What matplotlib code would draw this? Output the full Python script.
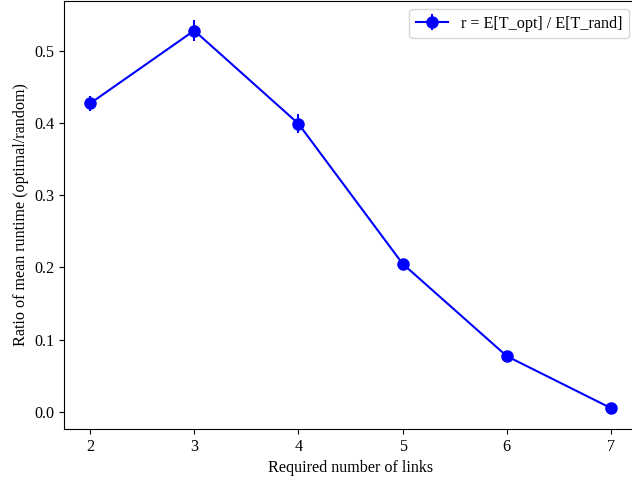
import matplotlib
matplotlib.use('Agg')
import matplotlib.pyplot as plt

plt.rcParams['font.family'] = ['Liberation Serif', 'DejaVu Serif']

# data
links = [2, 3, 4, 5, 6, 7]
ratio = [0.427, 0.528, 0.399, 0.205, 0.077, 0.005]
ratio_err = [0.011, 0.014, 0.013, 0.003, 0.003, 0.002]

fig = plt.figure(figsize=(6.32, 4.83), dpi=100)
ax = fig.add_axes([64/632, 54/483, 573/632, 428/483])

ax.errorbar(links, ratio, yerr=ratio_err, fmt='-o', color='blue',
            markersize=8, linewidth=1.5, label='r = E[T_opt] / E[T_rand]')

ax.set_xlabel('Required number of links', fontsize=11.6)
ax.set_ylabel('Ratio of mean runtime (optimal/random)', fontsize=11.6)
ax.tick_params(labelsize=11.6)
ax.legend(loc='upper right', fontsize=11.6)

fig.savefig('out.png', dpi=100)
